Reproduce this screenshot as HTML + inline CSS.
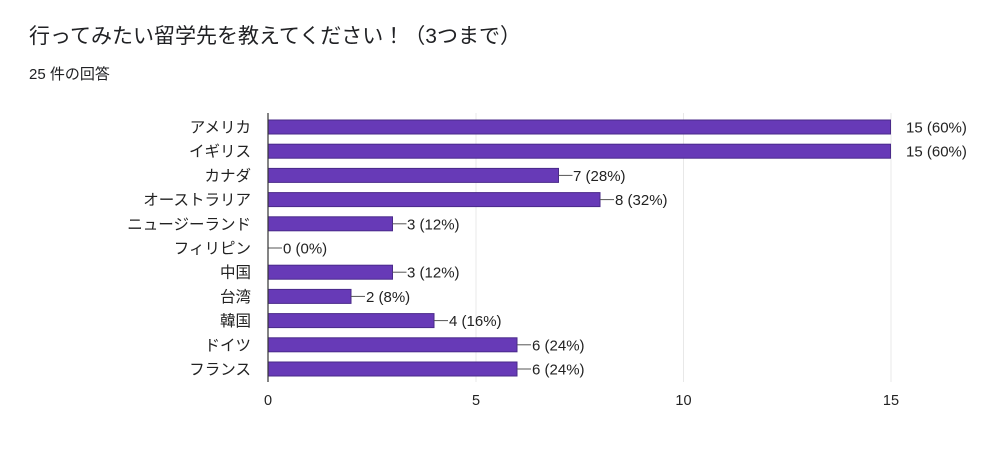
<!DOCTYPE html>
<html><head><meta charset="utf-8"><style>
body{margin:0;width:1000px;height:455px;background:#fff;overflow:hidden}
</style></head><body>
<svg width="1000" height="455" xmlns="http://www.w3.org/2000/svg" font-family="Liberation Sans, Noto Sans CJK JP, sans-serif">
<text x="29" y="43" font-size="21" fill="#202124">行ってみたい留学先を教えてください！（3つまで）</text>
<text x="29" y="79" font-size="15" fill="#202124">25 件の回答</text>
<g stroke="#e8e8e8" stroke-width="1">
<line x1="476" y1="113" x2="476" y2="382"/><line x1="683.5" y1="113" x2="683.5" y2="382"/><line x1="891" y1="113" x2="891" y2="382"/>
</g>
<g font-size="14.5" fill="#222">
<text x="268" y="405" text-anchor="middle">0</text>
<text x="476" y="405" text-anchor="middle">5</text>
<text x="683.5" y="405" text-anchor="middle">10</text>
<text x="891" y="405" text-anchor="middle">15</text>
</g>
<g font-size="15.5" fill="#222" text-anchor="end">
<text x="251" y="132.5">アメリカ</text>
<text x="251" y="156.7">イギリス</text>
<text x="251" y="180.9">カナダ</text>
<text x="251" y="205.1">オーストラリア</text>
<text x="251" y="229.3">ニュージーランド</text>
<text x="251" y="253.5">フィリピン</text>
<text x="251" y="277.7">中国</text>
<text x="251" y="301.9">台湾</text>
<text x="251" y="326.1">韓国</text>
<text x="251" y="350.3">ドイツ</text>
<text x="251" y="374.5">フランス</text>
</g>
<g fill="#673ab7" stroke="#4a2a8a" stroke-width="1">
<rect x="268" y="120" width="622.5" height="14"/>
<rect x="268" y="144.2" width="622.5" height="14"/>
<rect x="268" y="168.4" width="290.5" height="14"/>
<rect x="268" y="192.6" width="332" height="14"/>
<rect x="268" y="216.8" width="124.5" height="14"/>
<rect x="268" y="265.2" width="124.5" height="14"/>
<rect x="268" y="289.4" width="83" height="14"/>
<rect x="268" y="313.6" width="166" height="14"/>
<rect x="268" y="337.8" width="249" height="14"/>
<rect x="268" y="362" width="249" height="14"/>
</g>
<g stroke="#555" stroke-width="1">
<line x1="558.5" y1="175.4" x2="572.5" y2="175.4"/>
<line x1="600" y1="199.6" x2="614" y2="199.6"/>
<line x1="392.5" y1="223.8" x2="406.5" y2="223.8"/>
<line x1="268" y1="248" x2="282" y2="248"/>
<line x1="392.5" y1="272.2" x2="406.5" y2="272.2"/>
<line x1="351" y1="296.4" x2="365" y2="296.4"/>
<line x1="434" y1="320.6" x2="448" y2="320.6"/>
<line x1="517" y1="344.8" x2="531" y2="344.8"/>
<line x1="517" y1="369" x2="531" y2="369"/>
</g>
<g font-size="15" fill="#222">
<text x="906" y="132.5">15 (60%)</text>
<text x="906" y="156.7">15 (60%)</text>
<text x="573" y="180.9">7 (28%)</text>
<text x="615" y="205.1">8 (32%)</text>
<text x="407" y="229.3">3 (12%)</text>
<text x="283" y="253.5">0 (0%)</text>
<text x="407" y="277.7">3 (12%)</text>
<text x="366" y="301.9">2 (8%)</text>
<text x="449" y="326.1">4 (16%)</text>
<text x="532" y="350.3">6 (24%)</text>
<text x="532" y="374.5">6 (24%)</text>
</g>
<line x1="268" y1="113" x2="268" y2="382" stroke="#333" stroke-width="1.2"/>
</svg>
</body></html>
